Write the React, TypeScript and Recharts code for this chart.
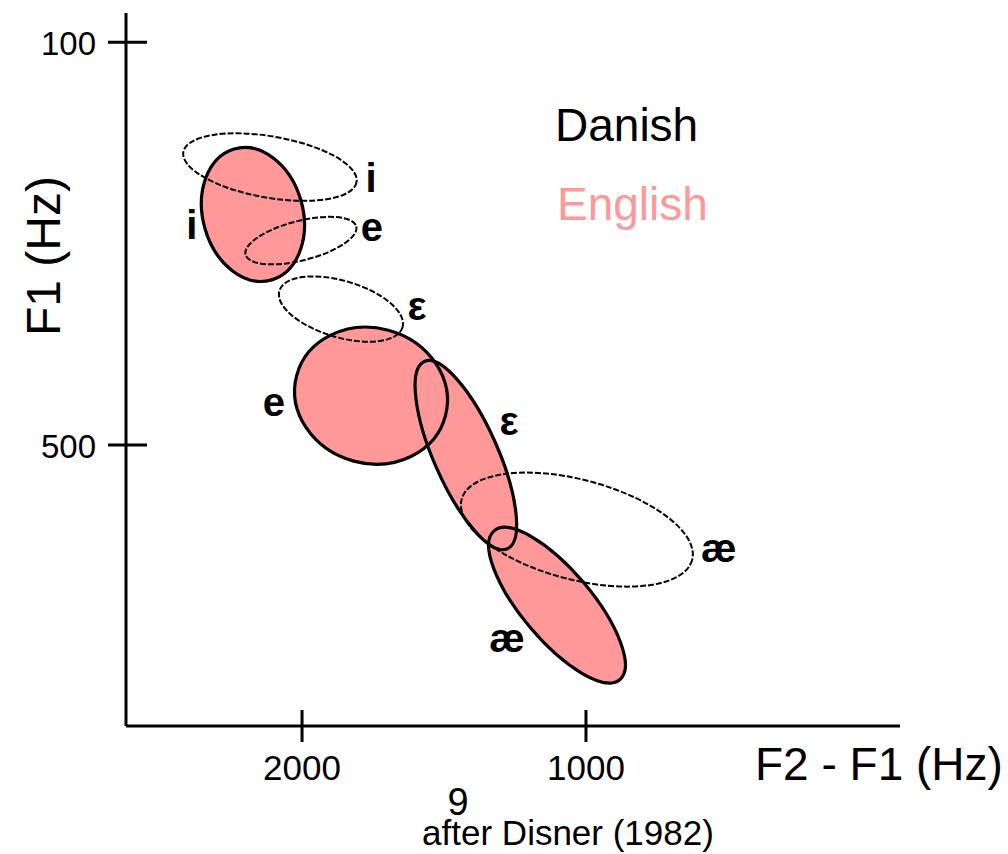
import React from 'react';
import { ScatterChart, Scatter, XAxis, YAxis } from 'recharts';

/* ─── Data (Hz) ───────────────────────────────────────────────────────────── */

const F2F1_TICKS = [2000, 1000];
const F1_TICKS = [100, 500];

// each vowel area: centre, end of the long semi-axis, end of the short semi-axis
const VOWELS = ['i', 'e', 'ε', 'æ'];

const ENG_CX = [2173, 1757, 1423, 1102];
const ENG_CY = [271, 451, 510, 659];
const ENG_AX = [2107, 1495, 1277, 881];
const ENG_AY = [336, 471, 603, 733];
const ENG_BX = [2342, 1818, 1526, 1197];
const ENG_BY = [285, 516, 523, 681];
const ENG_LABEL_X = [2388, 2099, 1271, 1278];
const ENG_LABEL_Y = [282, 461, 480, 696];

const DAN_CX = [2113, 2004, 1863, 1032];
const DAN_CY = [224, 297, 365, 584];
const DAN_AX = [1808, 1809, 1646, 626];
const DAN_AY = [239, 283, 383, 614];
const DAN_BX = [2132, 1987, 1890, 1076];
const DAN_BY = [254, 316, 392, 632];
const DAN_LABEL_X = [1757, 1754, 1595, 532];
const DAN_LABEL_Y = [235, 287, 366, 606];

/* ─── Helpers ─────────────────────────────────────────────────────────────── */

const FONT = "'Liberation Sans', Arial, Helvetica, sans-serif";
const PINK = '#ff9999';

type Row = { x: number; y: number; id: number; role: 'a' | 'b' | 'c' };

function ellipseRows(cx: number[], cy: number[], ax: number[], ay: number[], bx: number[], by: number[]): Row[] {
  const rows: Row[] = [];
  cx.forEach((_, i) => {
    rows.push({ x: ax[i], y: ay[i], id: i, role: 'a' });
    rows.push({ x: bx[i], y: by[i], id: i, role: 'b' });
    rows.push({ x: cx[i], y: cy[i], id: i, role: 'c' });
  });
  return rows;
}

function labelRows(xs: number[], ys: number[]) {
  return xs.map((x, i) => ({ x, y: ys[i], label: VOWELS[i] }));
}

const englishRows = ellipseRows(ENG_CX, ENG_CY, ENG_AX, ENG_AY, ENG_BX, ENG_BY);
const danishRows = ellipseRows(DAN_CX, DAN_CY, DAN_AX, DAN_AY, DAN_BX, DAN_BY);
const englishLabels = labelRows(ENG_LABEL_X, ENG_LABEL_Y);
const danishLabels = labelRows(DAN_LABEL_X, DAN_LABEL_Y);

// the two axis-end points are remembered (already scaled by the chart),
// the ellipse is drawn when its centre comes up
function ellipseShape(style: React.SVGProps<SVGPathElement>) {
  const seen: Record<string, { x: number; y: number }> = {};
  return (props: any) => {
    const { cx, cy, payload } = props;
    if (payload.role !== 'c') {
      seen[payload.id + payload.role] = { x: cx, y: cy };
      return <g />;
    }
    const a = seen[payload.id + 'a'];
    const b = seen[payload.id + 'b'];
    if (!a || !b) return <g />;
    const ux = a.x - cx, uy = a.y - cy, vx = b.x - cx, vy = b.y - cy;
    const k = 0.5523;
    const p = (s: number, t: number) => `${cx + s * ux + t * vx},${cy + s * uy + t * vy}`;
    const d =
      `M${p(1, 0)}` +
      `C${p(1, k)} ${p(k, 1)} ${p(0, 1)}` +
      `C${p(-k, 1)} ${p(-1, k)} ${p(-1, 0)}` +
      `C${p(-1, -k)} ${p(-k, -1)} ${p(0, -1)}` +
      `C${p(k, -1)} ${p(1, -k)} ${p(1, 0)}Z`;
    return <path d={d} {...style} />;
  };
}

const vowelLabel = (props: any) => {
  const { cx, cy, payload } = props;
  const shift = payload.label === 'i' ? 14 : 10;
  return (
    <text x={cx} y={cy + shift} textAnchor="middle" fontSize={40} fontWeight="bold"
      fontFamily={FONT} fill="#000">{payload.label}</text>
  );
};

const YTick = (props: any) => {
  const { x, y, payload } = props;
  return (
    <g>
      <line x1={x - 18} x2={x + 21} y1={y} y2={y} stroke="#000" strokeWidth={3} />
      <text x={x - 30} y={y + 13} textAnchor="end" fontSize={33} fontFamily={FONT} fill="#000">
        {payload.value}
      </text>
    </g>
  );
};

const XTick = (props: any) => {
  const { x, y, payload } = props;
  return (
    <g>
      <line x1={x} x2={x} y1={y - 16} y2={y + 16} stroke="#000" strokeWidth={3} />
      <text x={x} y={y + 54} textAnchor="middle" fontSize={35} fontFamily={FONT} fill="#000">
        {payload.value}
      </text>
    </g>
  );
};

/* ─── Chart ───────────────────────────────────────────────────────────────── */

export default function App() {
  return (
    <div style={{ position: 'absolute', left: 0, top: 0, width: 1008, height: 854, background: '#fff' }}>
      <ScatterChart width={1008} height={854} margin={{ top: 13, right: 108, bottom: 68, left: 26 }}>
        <XAxis type="number" dataKey="x" domain={[-106, 2620]} reversed allowDataOverflow
          ticks={F2F1_TICKS} height={60} tickSize={0} tickMargin={0} tickLine={false}
          axisLine={{ stroke: '#000', strokeWidth: 3 }} tick={<XTick />}
          label={{
            content: () => (
              <text x={755} y={780} fontSize={46} fontFamily={FONT} fill="#000">F2 - F1 (Hz)</text>
            ),
          }} />
        <YAxis type="number" dataKey="y" domain={[71, 779]} reversed allowDataOverflow
          ticks={F1_TICKS} width={100} tickSize={0} tickMargin={0} tickLine={false}
          axisLine={{ stroke: '#000', strokeWidth: 3 }} tick={<YTick />}
          label={{
            content: () => (
              <text x={60} y={256} transform="rotate(-90 60 256)" textAnchor="middle"
                fontSize={48} fontFamily={FONT} fill="#000">F1 (Hz)</text>
            ),
          }} />

        <Scatter data={englishRows} isAnimationActive={false}
          shape={ellipseShape({ fill: PINK, stroke: 'none' })} />
        <Scatter data={englishRows} isAnimationActive={false}
          shape={ellipseShape({ fill: 'none', stroke: '#000', strokeWidth: 3.2 })} />
        <Scatter data={danishRows} isAnimationActive={false}
          shape={ellipseShape({ fill: 'none', stroke: '#000', strokeWidth: 2, strokeDasharray: '6 2' })} />

        <Scatter data={englishLabels} isAnimationActive={false} shape={vowelLabel} />
        <Scatter data={danishLabels} isAnimationActive={false} shape={vowelLabel} />
      </ScatterChart>

      <svg width={1008} height={854} style={{ position: 'absolute', left: 0, top: 0, pointerEvents: 'none' }}>
        <text x={555} y={141} fontSize={46} fontFamily={FONT} fill="#000">Danish</text>
        <text x={557} y={220} fontSize={46} fontFamily={FONT} fill={PINK}>English</text>
        <text x={458} y={815} textAnchor="middle" fontSize={38} fontFamily={FONT} fill="#000">9</text>
        <text x={568} y={845} textAnchor="middle" fontSize={35} fontFamily={FONT} fill="#000">after Disner (1982)</text>
      </svg>
    </div>
  );
}
